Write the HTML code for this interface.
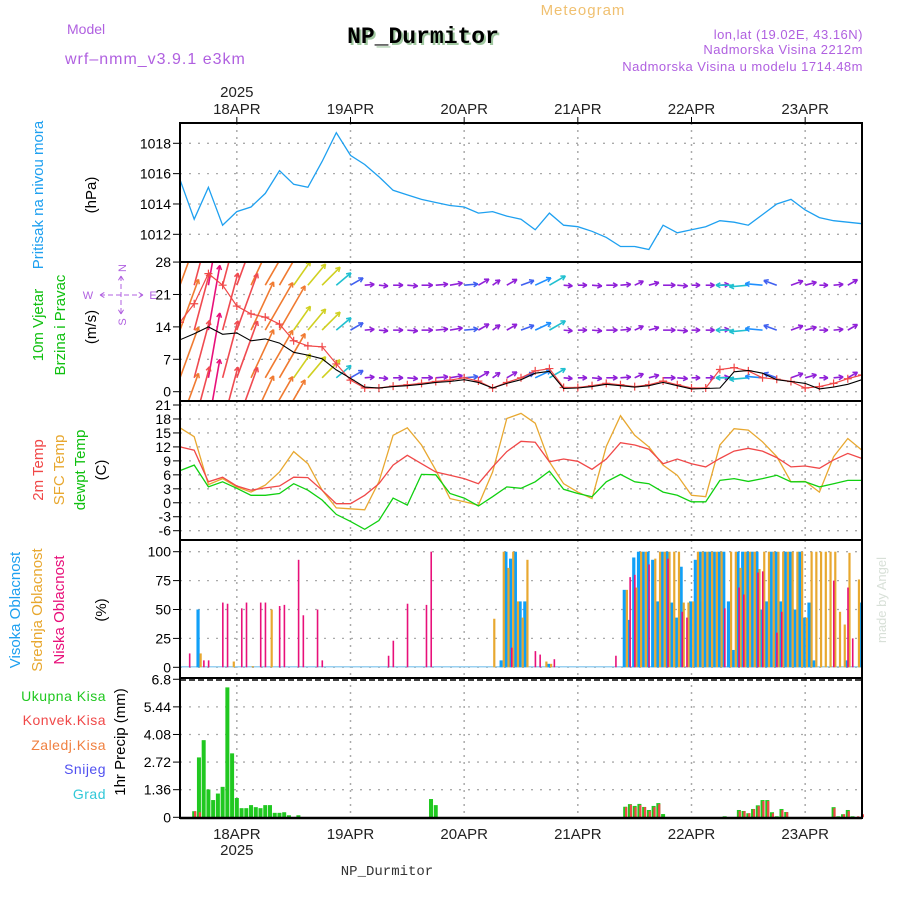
<!DOCTYPE html>
<html><head><meta charset="utf-8"><style>
html,body{margin:0;padding:0;background:#fff;}
svg{display:block;font-family:"Liberation Sans",sans-serif;}
</style></head><body>
<svg id="c" width="900" height="900" viewBox="0 0 900 900" xmlns="http://www.w3.org/2000/svg">
<defs><clipPath id="wclip"><rect x="180" y="262" width="682" height="139"/></clipPath></defs>
<text x="583" y="15" font-size="15" fill="#f0c070" text-anchor="middle" letter-spacing="1">Meteogram</text>
<text x="67" y="34" font-size="14" fill="#b060e0">Model</text>
<text x="65" y="64" font-size="16" fill="#b060e0" letter-spacing="1">wrf–nmm_v3.9.1 e3km</text>
<text x="425" y="45" font-size="23" font-weight="bold" fill="#a0c8a0" text-anchor="middle" font-family="Liberation Mono, monospace">NP_Durmitor</text>
<text x="423" y="43" font-size="23" font-weight="bold" fill="#000" text-anchor="middle" font-family="Liberation Mono, monospace">NP_Durmitor</text>
<text x="863" y="39" font-size="13" fill="#b060e0" text-anchor="end" letter-spacing="0.5">lon,lat (19.02E, 43.16N)</text>
<text x="863" y="54" font-size="13" fill="#b060e0" text-anchor="end" letter-spacing="0.5">Nadmorska Visina 2212m</text>
<text x="863" y="71" font-size="13" fill="#b060e0" text-anchor="end" letter-spacing="0.5">Nadmorska Visina u modelu 1714.48m</text>
<text x="387" y="875" font-size="14" fill="#333" text-anchor="middle" font-family="Liberation Mono, monospace">NP_Durmitor</text>
<text transform="translate(886,600) rotate(-90)" font-size="13" fill="#d8e0d8" text-anchor="middle">made by Angel</text>
<g id="g"></g>
<g fill="#b060e0" stroke="none" font-size="11">
<text x="88" y="299" text-anchor="middle">W</text>
<text x="153" y="299" text-anchor="middle">E</text>
<text transform="translate(126,268) rotate(-90)" text-anchor="middle">N</text>
<text transform="translate(126,322) rotate(-90)" text-anchor="middle">S</text>
<path d="M100,295H143M100,295l5,-3M100,295l5,3M143,295l-5,-3M143,295l-5,3M121,276V314M121,276l-3,5M121,276l3,5M121,314l-3,-5M121,314l3,-5" stroke="#b060e0" stroke-width="1" fill="none" stroke-dasharray="5,3"/>
</g>
</svg>
<script>
const hours3=[0,3,6,9,12,15,18,21,24,27,30,33,36,39,42,45,48,51,54,57,60,63,66,69,72,75,78,81,84,87,90,93,96,99,102,105,108,111,114,117,120,123,126,129,132,135,138,141,144];
const dayLabels=["18APR","19APR","20APR","21APR","22APR","23APR"];
const dayHours=[12,36,60,84,108,132];
const pressure=[1015.6,1013.0,1015.1,1012.6,1013.5,1013.8,1014.7,1016.2,1015.3,1015.1,1016.8,1018.7,1017.2,1016.6,1015.8,1014.9,1014.6,1014.3,1014.1,1013.9,1013.8,1013.4,1013.5,1013.2,1013.0,1012.3,1013.4,1012.6,1012.5,1012.2,1011.8,1011.2,1011.2,1011.0,1012.6,1012.1,1012.3,1012.5,1012.9,1012.8,1012.6,1013.3,1014.0,1014.3,1013.6,1013.1,1012.9,1012.8,1012.7];
const temp2m=[12.0,11.3,4.5,5.5,3.6,2.7,3.2,3.6,5.5,5.4,2.7,-0.2,-0.2,1.6,4.1,8.1,10.2,8.4,6.6,5.9,5.2,4.1,7.7,11.0,13.2,13.0,8.8,9.4,8.9,7.2,9.4,12.9,12.4,11.5,8.4,9.4,8.4,7.7,9.5,11.1,11.7,11.1,9.7,7.7,7.9,7.4,9.2,10.6,9.5];
const tempSfc=[16.1,14.2,3.9,5.2,3.4,2.3,3.8,6.6,11.0,8.4,2.7,-1.1,-1.3,-1.5,4.5,14.5,16.1,12.4,7.0,0.9,0.2,-0.5,6.6,18.1,19.2,17.1,8.8,4.1,2.3,0.9,12.1,18.7,14.5,12.0,8.1,5.9,1.6,1.3,12.4,15.9,15.6,13.1,9.9,4.5,4.6,2.3,9.9,13.8,11.3];
const tempDew=[6.9,8.1,3.4,4.5,3.1,1.6,1.6,2.0,4.1,2.7,0.6,-2.5,-4.0,-5.7,-3.8,1.0,-0.5,6.1,6.0,2.0,1.0,-0.7,1.3,3.4,3.1,4.5,6.8,2.9,2.0,1.3,4.5,6.1,4.5,4.1,2.3,1.6,0.2,0.2,4.8,5.2,4.6,5.2,5.9,4.5,4.5,3.4,4.1,4.8,4.8];
const windMean=[11.2,12.5,14.0,12.4,12.7,11.0,11.4,10.5,8.5,7.9,7.1,4.7,2.9,1.0,0.8,1.1,1.3,1.6,2.0,2.2,2.6,2.0,0.8,1.8,2.6,4.0,4.4,0.7,0.8,1.1,1.6,1.3,1.0,1.3,2.0,1.3,0.6,0.7,0.8,4.3,4.6,4.0,2.6,2.2,1.8,0.6,1.0,1.6,2.6];
const windGust=[15,19,25.5,23,18.5,16.8,16.1,14.6,11,9.9,9.7,6,2.5,0.8,0.8,1.2,1.5,1.8,2.2,2.5,3.0,2.3,0.8,2.0,3.0,4.5,5.0,0.9,0.9,1.3,1.8,1.5,1.1,1.5,2.3,1.5,0.8,0.8,4.8,5.2,4.5,3.0,2.7,2.2,0.8,1.1,1.8,2.8,3.6];
const windDir=[200,195,190,195,200,205,210,210,215,220,225,230,240,265,275,270,275,270,265,260,265,240,235,240,250,245,240,275,270,275,270,265,245,255,270,275,270,270,265,90,85,95,110,250,255,270,265,240,235];
const cloudHighHours=[4,68,69,70,71,72,73,78,94,95,96,97,98,99,100,101,102,103,104,105,106,108,109,110,111,112,113,114,115,116,117,118,119,120,121,122,123,124,125,126,127,128,129,130,131,132,133,134,141,144];
const cloudHigh=[50,6,100,94,100,57,57,3,67,41,95,100,100,100,93,57,100,100,56,43,87,57,93,100,100,100,100,100,100,57,15,100,100,100,100,100,50,57,100,100,57,100,100,50,100,43,56,6,6,56];
const cloudMidHours=[4,11,15,19,66,68,69,70,71,72,73,77,78,94,96,97,98,100,101,102,103,104,105,106,107,108,109,110,111,112,113,114,116,117,118,119,120,121,122,123,124,125,126,127,128,129,130,131,132,133,134,135,136,137,138,139,140,141,143];
const cloudMid=[12,5,1,50,42,100,86,100,57,43,93,5,3,67,69,100,100,94,100,100,100,100,100,56,56,57,100,100,100,100,100,100,100,100,86,100,100,100,85,100,100,100,100,100,100,100,100,100,43,100,100,100,100,100,100,48,37,99,76];
const cloudLowHours=[2,5,6,9,10,13,14,17,18,21,22,25,26,29,30,44,45,48,52,53,70,75,76,79,92,95,96,99,103,106,107,115,118,119,122,123,126,127,138,141,142];
const cloudLow=[12,6,6,56,55,51,56,56,56,53,54,93,45,50,6,10,23,55,54,100,17,14,11,7,10,78,80,89,94,48,43,51,69,63,82,83,30,48,75,69,25];
const precipHours=[3,4,5,6,7,8,9,10,11,12,13,14,15,16,17,18,19,20,21,22,23,25,53,54,94,95,96,97,98,99,100,101,102,115,118,119,120,121,122,123,124,125,126,127,128,138,139,140,141,142];
const precipTotal=[0.3,2.95,3.8,1.37,0.85,1.17,1.5,6.4,3.15,0.95,0.45,0.45,0.6,0.5,0.45,0.6,0.6,0.22,0.22,0.25,0.1,0.1,0.9,0.6,0.52,0.65,0.56,0.66,0.51,0.36,0.56,0.7,0.16,0.05,0.36,0.31,0.2,0.41,0.59,0.85,0.85,0.25,0.05,0.41,0.26,0.5,0.05,0.15,0.36,0.05];
const konvekHours=[3,4,94,95,96,97,98,99,100,101,118,119,120,121,122,123,124,125,127,128,138,140,141,143,144];
const konvek=[0.3,0.25,0.5,0.62,0.5,0.6,0.5,0.3,0.5,0.65,0.3,0.3,0.2,0.4,0.55,0.8,0.8,0.2,0.35,0.25,0.45,0.15,0.3,0.05,0.15];
const pTicks=[1012,1014,1016,1018];
const wTicks=[0,7,14,21,28];
const tTicks=[-6,-3,0,3,6,9,12,15,18,21];
const cTicks=[0,25,50,75,100];
const rTicks=[0,1.36,2.72,4.08,5.44,6.8];

const NS="http://www.w3.org/2000/svg";
const g=document.getElementById('g');
function el(tag,attrs,parent){const e=document.createElementNS(NS,tag);for(const k in attrs)e.setAttribute(k,attrs[k]);(parent||g).appendChild(e);return e;}
const X0=180,X1=862;
const xs=h=>X0+h*(X1-X0)/144;
const yP=p=>143.3+(1018-p)*15.17;
const yW=v=>391.7-v*4.63;
const yT=t=>405+(21-t)*4.656;
const yC=c=>667.3-c*1.156;
const yR=v=>817.3-v*20.3;
const panels=[[123,262,yP,pTicks],[262,401,yW,wTicks],[401,540,yT,tTicks],[540,678,yC,cTicks],[678,818,yR,rTicks]];

panels.forEach((p,pi)=>{
  p[3].forEach(t=>{
    const y=p[2](t);
    if(y>p[0]+2&&y<p[1]-2){const l=el('line',{x1:X0,x2:X1,y1:y,y2:y,stroke:'#aaa','stroke-width':1.3,'stroke-dasharray':'2,7'});
    
    }
    const tk=el('line',{x1:X0-7,x2:X0,y1:y,y2:y,stroke:'#000','stroke-width':1});
    
    
    const lb=el('text',{x:X0-9,y:y+5,'font-size':14,'text-anchor':'end',fill:'#000'});
    lb.textContent=String(t);
    
    
  });
  dayHours.forEach(h=>{
    const l=el('line',{x1:xs(h),x2:xs(h),y1:p[0],y2:p[1],stroke:'#aaa','stroke-width':1.5,'stroke-dasharray':'2,5'});
    
    
  });
});
dayHours.forEach((h,i)=>{
  const t=el('text',{x:xs(h),y:114,'font-size':15,'text-anchor':'middle',fill:'#222'});t.textContent=dayLabels[i];
  
  
  const b=el('text',{x:xs(h),y:839,'font-size':15,'text-anchor':'middle',fill:'#222'});b.textContent=dayLabels[i];
  
  
  el('line',{x1:xs(h),x2:xs(h),y1:117,y2:123,stroke:'#000'});
});
[[97],[855]].forEach(a=>{const t=el('text',{x:xs(12),y:a[0],'font-size':15,'text-anchor':'middle',fill:'#222'});t.textContent='2025';

});

function line(arr,yf,color,name,w){
  const d=hours3.map((h,i)=>(i?'L':'M')+xs(h).toFixed(1)+','+yf(arr[i]).toFixed(1)).join('');
  const p=el('path',{d:d,fill:'none',stroke:color,'stroke-width':w||1.3});
  
  
}
line(pressure,yP,'#1ea0f0','pressure-line');
line(tempSfc,yT,'#e8a830','sfc-temp-line');
line(temp2m,yT,'#f04848','temp-2m-line');
line(tempDew,yT,'#10d010','dewpoint-line');

const wg=el('g',{'clip-path':'url(#wclip)'});


function wcol(v){if(v>13.5)return '#e8107a';if(v>12)return '#f04a50';if(v>10)return '#f07a30';if(v>8.5)return '#f0a030';if(v>7)return '#d0d020';if(v>5.5)return '#40d020';if(v>4.2)return '#20c0d0';if(v>3)return '#2090ff';if(v>2.2)return '#4060f0';return '#9020d8';}
const rows=[23,13.3,3,-7];
rows.forEach(r=>{
  hours3.forEach((h,i)=>{
    const v=windMean[i];const len=7+v*(v>10?4.2:2.6);
    const to=(windDir[i]+180)*Math.PI/180;
    const x1=xs(h),y1=yW(r);const x2=x1+Math.sin(to)*len,y2=y1-Math.cos(to)*len;
    const c=wcol(v);
    const a=el('line',{x1:x1,y1:y1,x2:x2,y2:y2,stroke:c,'stroke-width':1.6},wg);
    
    
    const ang=Math.atan2(y2-y1,x2-x1);
    [0.5,-0.5].forEach(s=>{el('line',{x1:x2,y1:y2,x2:x2-5*Math.cos(ang+s),y2:y2-5*Math.sin(ang+s),stroke:c,'stroke-width':1.5},wg);});
  });
});
const gp=hours3.map((h,i)=>(i?'L':'M')+xs(h).toFixed(1)+','+yW(windGust[i]).toFixed(1)).join('');
const gl=el('path',{d:gp,fill:'none',stroke:'#f04848','stroke-width':1.2},wg);


hours3.forEach((h,i)=>{const x=xs(h),y=yW(windGust[i]);el('path',{d:`M${x-4},${y}H${x+4}M${x},${y-4}V${y+4}`,stroke:'#f04848','stroke-width':1.2},wg);});
const ml=hours3.map((h,i)=>(i?'L':'M')+xs(h).toFixed(1)+','+yW(windMean[i]).toFixed(1)).join('');
const mp=el('path',{d:ml,fill:'none',stroke:'#000','stroke-width':1.1},wg);



el('line',{x1:X0,x2:X1,y1:yC(0)-0.5,y2:yC(0)-0.5,stroke:'#9ad0f0','stroke-width':1.5});
function bars(hs,vals,yf,color,off,w,name){hs.forEach((h,i)=>{const y=yf(vals[i]);const y0=yf(0);
  const b=el('rect',{x:xs(h)+off,y:y,width:w,height:Math.max(0,y0-y),fill:color});
  
  });}
bars(cloudHighHours,cloudHigh,yC,'#10a0f8',-2.5,3.2,'cloud-high-bar');
bars(cloudMidHours,cloudMid,yC,'#e8a830',0.6,2.2,'cloud-mid-bar');
bars(cloudLowHours,cloudLow,yC,'#e8107a',-0.6,1.6,'cloud-low-bar');
bars(precipHours,precipTotal,yR,'#20c820',-2,4,'precip-total-bar');
bars(konvekHours,konvek,yR,'#f04848',-0.2,2.2,'precip-konvek-bar');

panels.forEach(p=>{const r=el('rect',{x:X0,y:p[0],width:X1-X0,height:p[1]-p[0],fill:'none',stroke:'#000','stroke-width':2});

});
el('line',{x1:X0,x2:X1,y1:680,y2:680,stroke:'#000','stroke-width':1.5,'stroke-dasharray':'6,3'});
el('line',{x1:X0,x2:X1,y1:818,y2:818,stroke:'#000','stroke-width':2.5});

function vt(x,y,txt,color,name,size){const t=el('text',{transform:`translate(${x},${y}) rotate(-90)`,'font-size':size||15,'text-anchor':'middle',fill:color});t.textContent=txt;

}
vt(43,195,'Pritisak na nivou mora','#1ea0f0','pressure-title');
vt(96,195,'(hPa)','#000','pressure-unit');
vt(43,325,'10m Vjetar','#10c010','wind-title-1');
vt(65,325,'Brzina i Pravac','#10c010','wind-title-2');
vt(96,327,'(m/s)','#000','wind-unit');
vt(43,470,'2m Temp','#f04848','temp-2m-title');
vt(64,470,'SFC Temp','#e8a830','temp-sfc-title');
vt(85,470,'dewpt Temp','#10c010','dewpt-title');
vt(106,470,'(C)','#000','temp-unit');
vt(20,610,'Visoka Oblacnost','#1ea0f0','cloud-high-title');
vt(42,610,'Srednja Oblacnost','#e8a830','cloud-mid-title');
vt(64,610,'Niska Oblacnost','#e8107a','cloud-low-title');
vt(106,610,'(%)','#000','cloud-unit');
vt(125,742,'1hr Precip (mm)','#000','precip-title');
[['Ukupna Kisa','#20c820',701],['Konvek.Kisa','#f04848',725],['Zaledj.Kisa','#f08040',750],['Snijeg','#5050f0',774],['Grad','#30c8d8',799]].forEach(a=>{
  const t=el('text',{x:106,y:a[2],'font-size':14,'text-anchor':'end',fill:a[1],'letter-spacing':'0.5'});t.textContent=a[0];
  
  });
</script>
</body></html>
